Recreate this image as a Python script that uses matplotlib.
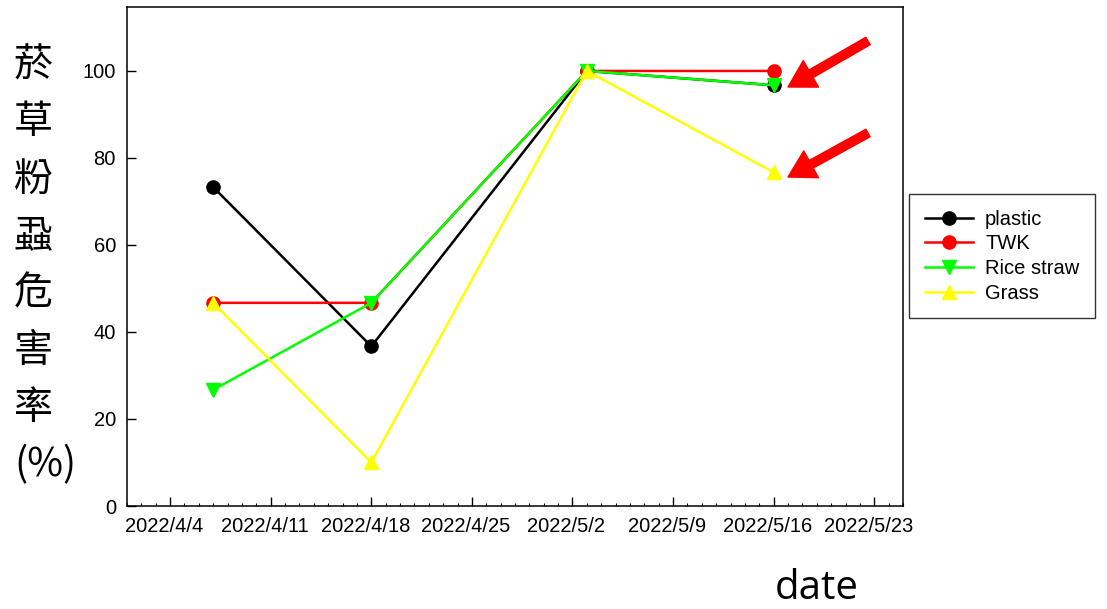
import datetime as dt
import matplotlib
matplotlib.use("Agg")
import matplotlib.pyplot as plt
import matplotlib.dates as mdates
import matplotlib.transforms as mtransforms
from matplotlib.ticker import FuncFormatter

# data
dates = ["2022-04-07", "2022-04-18", "2022-05-03", "2022-05-16"]
plastic = [73.3, 36.7, 100.0, 96.7]
twk = [46.7, 46.7, 100.0, 100.0]
rice_straw = [26.7, 46.7, 100.0, 96.7]
grass = [46.7, 10.0, 100.0, 76.7]

series_names = ["plastic", "TWK", "Rice straw", "Grass"]
series_values = [plastic, twk, rice_straw, grass]
series_colors = ["#000000", "#ff0000", "#00ff00", "#ffff00"]
series_markers = ["o", "o", "v", "^"]

y_ticks = [0, 20, 40, 60, 80, 100]
y_label_chars = ["菸", "草", "粉", "蝨", "危", "害", "率", "(%)"]

plt.rcParams["font.family"] = ["Liberation Sans", "DejaVu Sans"]

W, H = 1107, 609
fig = plt.figure(figsize=(W / 100, H / 100), dpi=100)
ax = fig.add_axes([127 / W, 1 - 506 / H, (903 - 127) / W, (506 - 7) / H])

x = [dt.datetime.strptime(d, "%Y-%m-%d") for d in dates]

for name, vals, col, mk in zip(series_names, series_values, series_colors, series_markers):
    ax.plot(x, vals, color=col, marker=mk, markersize=9.5, linewidth=1.8,
            label=name, clip_on=False)

ax.set_xlim(dt.datetime(2022, 4, 1), dt.datetime(2022, 5, 25))
ax.set_ylim(0, 114.7)
ax.set_yticks(y_ticks)

ax.xaxis.set_major_locator(mdates.WeekdayLocator(byweekday=mdates.MO))
ax.xaxis.set_minor_locator(mdates.DayLocator())
ax.xaxis.set_major_formatter(FuncFormatter(
    lambda v, p: "{0}/{1}/{2}".format(mdates.num2date(v).year,
                                      mdates.num2date(v).month,
                                      mdates.num2date(v).day)))

ax.tick_params(axis="both", which="major", direction="in", length=6.5,
               width=1, labelsize=14.5, pad=8)
ax.tick_params(axis="x", which="minor", direction="in", length=2.2, width=0.8)
for s in ax.spines.values():
    s.set_linewidth(1.1)

# date labels sit a little left of their ticks in the original
shift = mtransforms.ScaledTranslation(-6 / 100, 0, fig.dpi_scale_trans)
for lab in ax.get_xticklabels():
    lab.set_transform(lab.get_transform() + shift)

# y label, one character per line
for i, ch in enumerate(y_label_chars):
    fig.text(14 / W, 1 - (65 + i * 57.2) / H, ch, ha="left", va="center",
             fontsize=28, family=["Noto Sans CJK TC", "DejaVu Sans"])

fig.text(817 / W, 1 - 589 / H, "date", ha="center", va="center",
         fontsize=29, family=["Open Sans", "DejaVu Sans"])

leg = ax.legend(loc="upper left", bbox_to_anchor=(909 / W, 1 - 194 / H),
                bbox_transform=fig.transFigure, fontsize=14.5, frameon=True,
                fancybox=False, edgecolor="black", handlelength=2.4,
                handletextpad=0.6, labelspacing=0.28, borderpad=0.78,
                borderaxespad=0)
leg.get_frame().set_linewidth(1.0)

# red arrows pointing at the last points
for tail, tip in [((868, 41), (788, 87)), ((868, 133), (788, 177))]:
    ax.annotate("", xy=(tip[0], H - tip[1]), xycoords="figure pixels",
                xytext=(tail[0], H - tail[1]), textcoords="figure pixels",
                arrowprops=dict(arrowstyle="simple,head_length=1.9,head_width=2.2,tail_width=0.62",
                                color="#ff0000", mutation_scale=10, shrinkA=0, shrinkB=0))

fig.savefig("out.png", dpi=100)
